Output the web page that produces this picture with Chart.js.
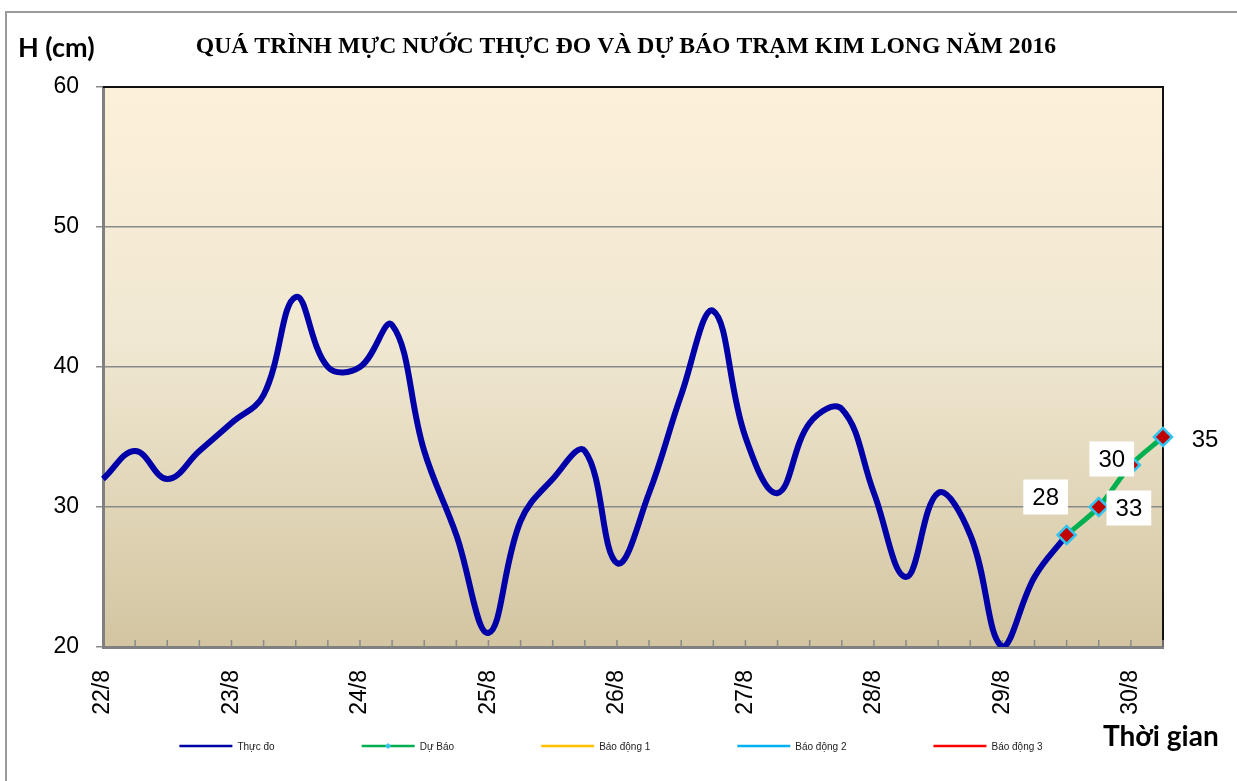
<!DOCTYPE html>
<html><head><meta charset="utf-8">
<script src="https://cdn.jsdelivr.net/npm/chart.js@4/dist/chart.umd.min.js"></script>
<style>html,body{margin:0;padding:0;background:#fff;}#wrap{position:relative;width:1237px;height:781px;}</style>
</head><body><div id="wrap"><canvas id="c" width="1237" height="781"></canvas></div>
<script>
// ---------- data ----------
const dayLabels = ['22/8','23/8','24/8','25/8','26/8','27/8','28/8','29/8','30/8'];
const hourLabels = ['00h','06h','12h','18h'];
const observed = [32,34,32,34,36,38,45,40,40,43,34,28,21,29,32,34,26,31,38,44,35,31,36,37,31,25,31,28,20,25,28];
const forecast = [28,30,33,35];
const forecastStart = 30;
const seriesNames = ['Thực đo','Dự Báo','Báo động 1','Báo động 2','Báo động 3'];
const seriesColors = ['#0000A8','#00B050','#FFC000','#00B0F0','#FF0000'];
const yMin = 20, yMax = 60, yStep = 10;
const titleText = 'QUÁ TRÌNH MỰC NƯỚC THỰC ĐO VÀ DỰ BÁO TRẠM KIM LONG NĂM 2016';
const yAxisTitle = 'H (cm)';
const xAxisTitle = 'Thời gian';
// label offsets (px) of the forecast value labels, as placed in the original
const labelOffsets = [[-21,-38],[13,-48],[-2,43],[42,2]];

const categories = [];
dayLabels.forEach(d => hourLabels.forEach(h => categories.push(d + ' ' + h)));
const nPoints = forecastStart + forecast.length;
const cats = categories.slice(0, nPoints);
const forecastData = new Array(forecastStart).fill(null).concat(forecast);

const FONT = '"Liberation Sans", Arial, sans-serif';

const bgPlugin = {
  id:'bg',
  beforeDraw(chart){
    const {ctx, chartArea:a} = chart;
    ctx.save();
    ctx.fillStyle = '#fff';
    ctx.fillRect(0,0,chart.width,chart.height);
    ctx.strokeStyle = '#9a9a9a'; ctx.lineWidth = 2;
    ctx.beginPath(); ctx.moveTo(6, chart.height); ctx.lineTo(6, 12); ctx.lineTo(chart.width, 12); ctx.stroke();
    const g = ctx.createLinearGradient(0, a.top, 0, a.bottom);
    g.addColorStop(0, '#FDF0D9');
    g.addColorStop(0.45, '#F0E8D2');
    g.addColorStop(1, '#D3C5A1');
    ctx.fillStyle = g;
    ctx.fillRect(a.left, a.top, a.right - a.left, a.bottom - a.top);
    ctx.restore();
  },
  beforeDatasetsDraw(chart){
    const {ctx, chartArea:a, scales:{x}} = chart;
    ctx.save();
    ctx.strokeStyle = '#111'; ctx.lineWidth = 2;
    ctx.beginPath(); ctx.moveTo(a.left, a.top); ctx.lineTo(a.right, a.top); ctx.lineTo(a.right, a.bottom); ctx.stroke();
    ctx.strokeStyle = '#8a8a8a'; ctx.lineWidth = 1.5;
    for (let i = 1; i < cats.length; i++) {
      const px = x.getPixelForValue(i);
      ctx.beginPath(); ctx.moveTo(px, a.bottom); ctx.lineTo(px, a.bottom - 7); ctx.stroke();
    }
    ctx.restore();
  },
  afterDatasetsDraw(chart){
    const {ctx} = chart;
    const meta = chart.getDatasetMeta(1);
    ctx.save();
    ctx.font = '24px ' + FONT;
    ctx.textAlign = 'center'; ctx.textBaseline = 'middle';
    forecast.forEach((v, k) => {
      const el = meta.data[forecastStart + k];
      if (!el) return;
      const cx = el.x + labelOffsets[k][0], cy = el.y + labelOffsets[k][1];
      const t = String(v);
      const w = ctx.measureText(t).width + 18, h = 35;
      ctx.fillStyle = '#fff';
      ctx.fillRect(cx - w/2, cy - h/2, w, h);
      ctx.fillStyle = '#000';
      ctx.fillText(t, cx, cy + 1);
    });
    ctx.restore();
  },
  afterDraw(chart){
    const {ctx} = chart;
    ctx.save();
    ctx.fillStyle = '#000';
    ctx.textBaseline = 'alphabetic';
    ctx.font = 'bold 23.7px "Liberation Serif", "Times New Roman", serif';
    ctx.textAlign = 'center';
    ctx.fillText(titleText, 626, 53);
    ctx.textAlign = 'left';
    ctx.font = 'bold 27px Lato, "Open Sans", sans-serif';
    ctx.fillText(yAxisTitle, 18, 57);
    ctx.font = 'bold 28px Lato, "Open Sans", sans-serif';
    ctx.fillText(xAxisTitle, 1103, 746);
    // legend
    ctx.font = '10px ' + FONT;
    ctx.textBaseline = 'middle';
    const lineLen = 53, gap = 5, pad = 87, ly = 746;
    const ds = chart.data.datasets;
    const widths = ds.map(d => lineLen + gap + ctx.measureText(d.label).width);
    const total = widths.reduce((s,w)=>s+w,0) + pad*(ds.length-1);
    let xx = 611 - total/2;
    ds.forEach((d, i) => {
      ctx.strokeStyle = d.borderColor; ctx.lineWidth = 2.5;
      ctx.beginPath(); ctx.moveTo(xx, ly); ctx.lineTo(xx + lineLen, ly); ctx.stroke();
      if (i === 1) {
        ctx.fillStyle = '#33C3F0';
        ctx.beginPath(); const mx = xx + lineLen/2;
        ctx.moveTo(mx, ly-3); ctx.lineTo(mx+3, ly); ctx.lineTo(mx, ly+3); ctx.lineTo(mx-3, ly); ctx.closePath(); ctx.fill();
      }
      ctx.fillStyle = '#222';
      ctx.fillText(d.label, xx + lineLen + gap, ly + 1);
      xx += widths[i] + pad;
    });
    ctx.restore();
  }
};

new Chart(document.getElementById('c').getContext('2d'), {
  type:'line',
  data:{
    labels: cats,
    datasets:[
      {label:seriesNames[0], data:observed, borderColor:seriesColors[0], borderWidth:6, tension:0.4, pointRadius:0, fill:false, order:1},
      {label:seriesNames[1], data:forecastData, borderColor:seriesColors[1], borderWidth:5, tension:0.3, fill:false, order:0,
        pointStyle:'rectRot', pointRadius:9, pointBackgroundColor:'#C00000', pointBorderColor:'#33C3F0', pointBorderWidth:2.5},
      {label:seriesNames[2], data:[], borderColor:seriesColors[2], borderWidth:3, order:2},
      {label:seriesNames[3], data:[], borderColor:seriesColors[3], borderWidth:3, order:3},
      {label:seriesNames[4], data:[], borderColor:seriesColors[4], borderWidth:3, order:4}
    ]
  },
  options:{
    responsive:false, animation:false, devicePixelRatio:1,
    layout:{padding:{left:0, right:74, top:87, bottom:0}},
    plugins:{legend:{display:false}, title:{display:false}, tooltip:{enabled:false}},
    scales:{
      x:{
        ticks:{autoSkip:false, minRotation:90, maxRotation:90, padding:23, color:'#000',
          font:{family:FONT, size:23},
          callback:(v,i)=> (i % hourLabels.length === 0) ? dayLabels[i / hourLabels.length] : ''},
        grid:{display:true, drawOnChartArea:false, drawTicks:false},
        border:{color:'#808080', width:3},
        afterFit:s=>{ s.height = 134; }
      },
      y:{
        min:yMin, max:yMax,
        ticks:{stepSize:yStep, color:'#000', font:{family:FONT, size:23}, padding:17},
        grid:{color:'#8a8a8a', lineWidth:1.5, tickLength:7, drawTicks:true},
        border:{color:'#808080', width:3},
        afterFit:s=>{ s.width = 103; }
      }
    }
  },
  plugins:[bgPlugin]
});
</script></body></html>
